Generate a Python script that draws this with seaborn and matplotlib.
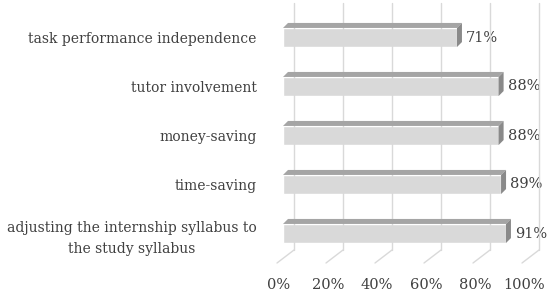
import numpy as np
import pandas as pd
import matplotlib
matplotlib.use("Agg")
import matplotlib.pyplot as plt
import matplotlib.transforms as mtransforms
from matplotlib.patches import Polygon
from matplotlib.lines import Line2D
import seaborn as sns

categories = [
    "task performance independence",
    "tutor involvement",
    "money-saving",
    "time-saving",
    "adjusting the internship syllabus to\nthe study syllabus",
]
values = [71, 88, 88, 89, 91]
x_ticks = [0, 20, 40, 60, 80, 100]
x_tick_labels = ["0%", "20%", "40%", "60%", "80%", "100%"]

FRONT = "#d9d9d9"
TOP = "#a5a5a5"
SIDE = "#8a8a8a"
GRID = "#d9d9d9"
TEXT = "#404040"

sns.set_theme(style="white")
plt.rcParams["font.family"] = ["DejaVu Serif"]

W, H = 550, 296
fig = plt.figure(figsize=(W / 100, H / 100), dpi=100)
# axes box in pixels: left 283, right 528, top 3, bottom 250
ax = fig.add_axes([283 / W, 1 - 250 / H, 245 / W, 247 / H])

df = pd.DataFrame({"category": categories, "value": values})
sns.barplot(data=df, x="value", y="category", color=FRONT, saturation=1,
            width=0.39, ax=ax, zorder=3)

ax.set_xlim(0, 100)
ax.set_ylim(4 + 16.5 / 49, -34.5 / 49)
for s in ax.spines.values():
    s.set_visible(False)
ax.set_xlabel("")
ax.set_ylabel("")
ax.set_xticks(x_ticks)
ax.set_xticklabels(x_tick_labels, color=TEXT, fontsize=10.5)
ax.tick_params(axis="x", length=0, pad=20)
ax.tick_params(axis="y", length=0, pad=19)
for lab in ax.get_yticklabels():
    lab.set_color(TEXT)
    lab.set_fontsize(10)
    lab.set_multialignment("center")
    lab.set_linespacing(1.6)
shift = mtransforms.ScaledTranslation(-4 / 100, 0, fig.dpi_scale_trans)
for lab in ax.get_xticklabels():
    lab.set_transform(lab.get_transform() + shift)

fig.canvas.draw()
ident = mtransforms.IdentityTransform()

# back-wall gridlines and floor lines (pseudo 3D)
for v in x_ticks:
    x0, _ = ax.transData.transform((v, 0))
    y_top = H - 3
    y_bot = H - 250
    fig.add_artist(Line2D([x0 + 11, x0 + 11], [y_bot, y_top], color=GRID,
                          lw=1, transform=ident, zorder=1))
    fig.add_artist(Line2D([x0 + 11, x0 - 6], [y_bot, y_bot - 13], color=GRID,
                          lw=1, transform=ident, zorder=1))

# top and side faces of the bars
d = 5
for patch, v in zip(ax.patches, values):
    bb = patch.get_window_extent()
    x0, x1, y0, y1 = bb.x0, bb.x1, bb.y0, bb.y1
    top = Polygon([(x0, y1), (x1, y1), (x1 + d, y1 + d), (x0 + d, y1 + d)],
                  closed=True, facecolor=TOP, edgecolor="none",
                  transform=ident, zorder=4)
    side = Polygon([(x1, y0), (x1 + d, y0 + d), (x1 + d, y1 + d), (x1, y1)],
                   closed=True, facecolor=SIDE, edgecolor="none",
                   transform=ident, zorder=4)
    fig.add_artist(top)
    fig.add_artist(side)

for i, v in enumerate(values):
    ax.annotate(f"{v}%", xy=(v, i), xytext=(9, 0), textcoords="offset pixels",
                va="center", ha="left", color=TEXT, fontsize=10.5,
                annotation_clip=False)

fig.savefig("out.png", dpi=100)
